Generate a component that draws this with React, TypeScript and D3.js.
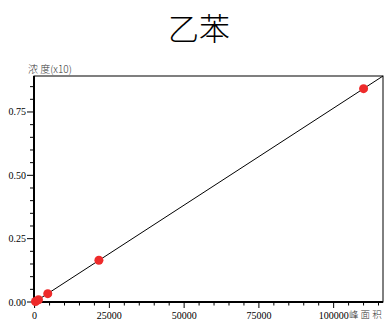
import React, { useEffect, useRef } from 'react';
import * as d3 from 'd3';

// peak area vs concentration (x10)
const peakArea = [300, 1300, 4400, 21500, 110000];
const concentration = [0.002, 0.009, 0.033, 0.165, 0.842];
const xTicks = [0, 25000, 50000, 75000, 100000];
const yTicks = [0, 0.25, 0.5, 0.75];

const App: React.FC = () => {
  const ref = useRef<SVGSVGElement>(null);

  useEffect(() => {
    if (!ref.current) return;
    const svg = d3.select(ref.current);
    svg.selectAll('*').remove();

    const left = 34, right = 383, top = 76, bottom = 302;
    const x = d3.scaleLinear().domain([-200, 116500]).range([left, right]);
    const y = d3.scaleLinear().domain([0, 0.892]).range([bottom, top]);
    const font = 'Liberation Serif';
    const cjk = 'Noto Sans CJK SC';

    // title
    svg.append('text')
      .attr('x', 199).attr('y', 40)
      .attr('text-anchor', 'middle')
      .style('font-family', cjk)
      .attr('font-size', 31)
      .attr('font-weight', 300)
      .text('乙苯');

    // frame
    svg.append('rect')
      .attr('x', left).attr('y', top)
      .attr('width', right - left).attr('height', bottom - top)
      .attr('fill', 'none').attr('stroke', '#000').attr('stroke-width', 1);

    // x axis
    const xAxis = svg.append('g').attr('transform', `translate(0,${bottom})`);
    xAxis.append('line')
      .attr('x1', left).attr('x2', right)
      .attr('stroke', '#000').attr('stroke-width', 2);
    d3.range(0, 116001, 5000).forEach(v => {
      const major = v % 25000 === 0;
      xAxis.append('line')
        .attr('x1', x(v)).attr('x2', x(v))
        .attr('y1', 0).attr('y2', major ? 6 : 3.5)
        .attr('stroke', '#000');
    });
    xTicks.forEach(v => {
      xAxis.append('text')
        .attr('x', x(v)).attr('y', 17)
        .attr('text-anchor', 'middle')
        .style('font-family', font).attr('font-size', 10)
        .text(String(v));
    });
    svg.append('text')
      .attr('x', 349).attr('y', 318)
      .style('font-family', cjk).attr('font-size', 9.5)
      .attr('font-weight', 300)
      .attr('fill', '#333')
      .text('峰 面 积');

    // y axis
    const yAxis = svg.append('g').attr('transform', `translate(${left},0)`);
    yAxis.append('line')
      .attr('y1', top).attr('y2', bottom)
      .attr('stroke', '#000').attr('stroke-width', 2);
    d3.range(0, 0.891, 0.05).forEach(v => {
      const major = Math.abs((v / 0.25) - Math.round(v / 0.25)) < 1e-6;
      yAxis.append('line')
        .attr('x1', major ? -7 : -4).attr('x2', 0)
        .attr('y1', y(v)).attr('y2', y(v))
        .attr('stroke', '#000');
    });
    yTicks.forEach(v => {
      yAxis.append('text')
        .attr('x', -8).attr('y', y(v) + 3.5)
        .attr('text-anchor', 'end')
        .style('font-family', font).attr('font-size', 10)
        .text(v.toFixed(2));
    });
    svg.append('text')
      .attr('x', 28).attr('y', 73)
      .style('font-family', cjk).attr('font-size', 10)
      .attr('font-weight', 300)
      .attr('fill', '#333')
      .text('浓  度(x10)');

    // least squares fit through the points
    const n = peakArea.length;
    const mx = d3.mean(peakArea) as number;
    const my = d3.mean(concentration) as number;
    let sxy = 0, sxx = 0;
    for (let i = 0; i < n; i++) {
      sxy += (peakArea[i] - mx) * (concentration[i] - my);
      sxx += (peakArea[i] - mx) ** 2;
    }
    const slope = sxy / sxx;
    const intercept = my - slope * mx;
    const x0 = 0, x1 = x.domain()[1];
    svg.append('line')
      .attr('x1', x(x0)).attr('y1', y(intercept + slope * x0))
      .attr('x2', x(x1)).attr('y2', y(intercept + slope * x1))
      .attr('stroke', '#000').attr('stroke-width', 1);

    // points
    svg.append('g').selectAll('circle')
      .data(peakArea.map((v, i) => [v, concentration[i]]))
      .join('circle')
      .attr('cx', d => x(d[0]))
      .attr('cy', d => y(d[1]))
      .attr('r', 4.5)
      .attr('fill', '#ee2b2b');
  }, []);

  return <svg ref={ref} width={387} height={321} style={{ position: 'absolute', left: 0, top: 0 }} />;
};

export default App;
